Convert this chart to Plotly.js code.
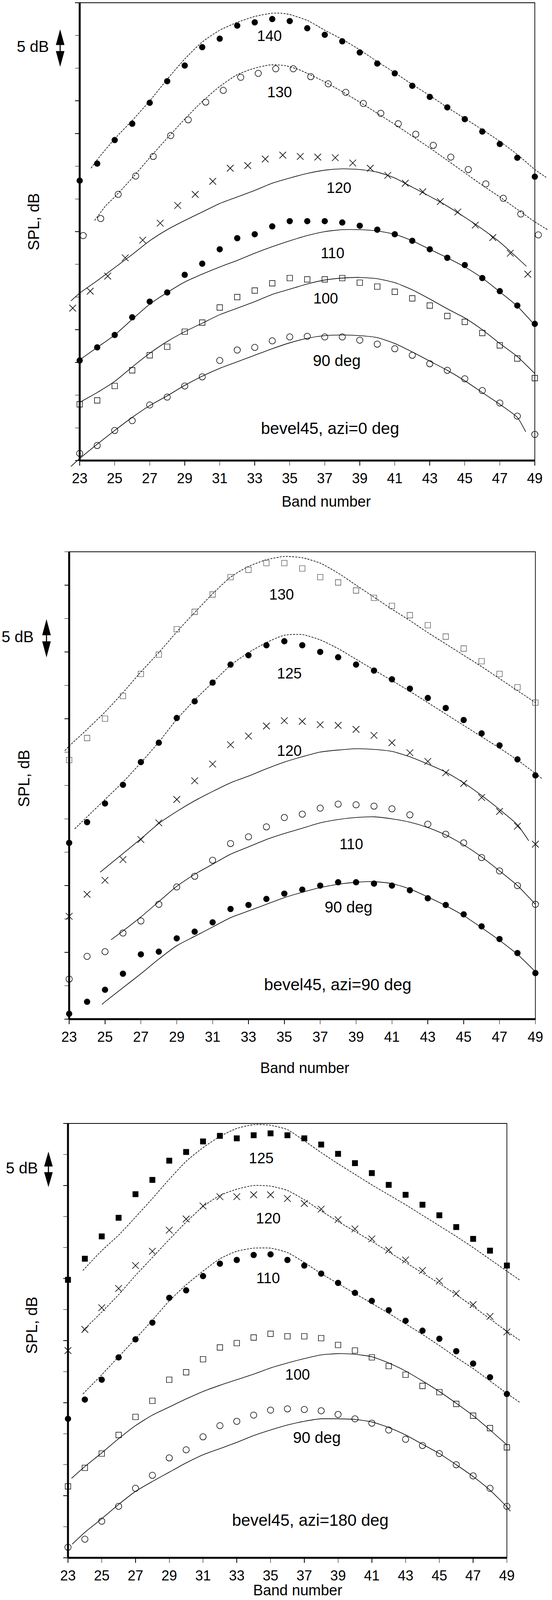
<!DOCTYPE html>
<html><head><meta charset="utf-8">
<script src="https://cdn.plot.ly/plotly-3.0.1.min.js"></script>
<style>html,body{margin:0;padding:0;background:#fff;overflow:hidden}#chart{width:1413px;height:4125px}</style>
</head><body><div id="chart"></div>
<script>
// ---------------- DATA ----------------
const bands = [23,24,25,26,27,28,29,30,31,32,33,34,35,36,37,38,39,40,41,42,43,44,45,46,47,48,49];
const xTickVals = [23,25,27,29,31,33,35,37,39,41,43,45,47,49];
const xTickText = ["23","25","27","29","31","33","35","37","39","41","43","45","47","49"];
const yTickVals = [0,5,10,15,20,25,30,35,40,45,50,55,60,65,70];

// Panel 1: bevel45, azi=0 deg  (measured, SPL dB relative)
const p1_140 = [42.8,45.4,49.0,51.5,54.7,58.0,60.4,63.2,64.5,66.5,67.0,67.5,67.2,66.1,65.1,64.1,62.4,60.7,59.2,57.3,55.6,54.0,52.2,50.3,48.4,46.3,43.4];
const p1_130 = [34.4,37.0,40.7,43.5,46.5,49.7,52.1,54.8,56.6,58.6,59.2,59.9,59.9,58.7,57.6,56.3,54.6,53.1,51.5,49.9,48.2,46.4,44.5,42.3,40.1,37.7,34.5];
const p1_120 = [23.3,25.9,28.2,31.0,33.7,36.3,39.0,40.7,42.7,44.7,45.1,46.1,46.7,46.5,46.4,46.3,45.5,44.7,43.6,42.4,41.1,39.6,38.0,36.0,34.1,31.7,28.5];
const p1_110 = [15.3,17.3,19.2,21.9,24.3,25.7,28.4,30.1,32.3,34.0,34.6,35.8,36.6,36.6,36.6,36.4,35.9,35.3,34.6,33.6,32.3,31.0,29.9,27.9,25.9,23.7,20.9];
const p1_100 = [8.6,9.2,11.4,13.8,16.1,17.4,19.7,21.1,23.4,25.0,26.0,27.1,27.9,27.7,27.7,27.9,27.2,26.6,25.8,24.8,23.7,22.1,21.2,19.5,17.6,15.6,12.6];
const p1_90  = [1.1,2.3,4.6,6.1,8.5,9.7,11.4,12.8,15.3,16.9,17.3,18.3,18.9,19.0,18.9,18.9,18.4,17.8,17.1,16.1,14.8,13.8,12.5,10.7,8.8,6.8,4.0];
// Panel 1 predictions
const p1_140_px = [23.65,24,25,26,27,28,29,30,31,32,33,34,34.5,35,36,37,38,39,40,41,42,43,44,45,46,47,48,49,49.65];
const p1_140_py = [44.7,46.0,49.2,52.0,55.0,58.3,61.4,64.0,65.8,67.0,67.9,68.4,68.4,68.2,67.3,65.8,64.4,62.8,61.0,59.3,57.5,55.8,54.0,52.3,50.6,48.8,46.8,44.5,43.3];
const p1_130_px = [23.85,24.5,25,26,27,28,29,30,31,32,33,33.9,34.7,35.5,36,37,38,39,40,41,42,43,44,45,46,47,48,49,49.73];
const p1_130_py = [36.7,39.0,40.3,43.2,46.3,49.3,52.2,54.9,57.2,59.0,60.0,60.5,60.4,59.8,59.2,57.9,56.4,54.8,53.1,51.4,49.6,47.8,45.9,44.0,42.1,40.3,38.4,36.5,35.3];
const p1_120_px = [22.5,23,24,25,26,27,28,29,30,31,32,33,34,35,36,37,38,39,40,41,42,43,44,45,46,47,48,48.52];
const p1_120_py = [24.4,25.6,27.5,29.5,31.5,33.6,35.3,36.7,38.0,39.3,40.3,41.3,42.4,43.2,43.9,44.4,44.6,44.5,44.1,43.2,41.8,40.4,38.9,37.2,35.4,33.4,31.0,29.7];
const p1_110_px = [23,24,25,26,27,28,29,30,31,32,33,34,35,36,37,38,39,40,41,42,43,44,45,46,47,48,49];
const p1_110_py = [15.4,17.3,19.2,21.6,23.9,25.7,27.3,28.5,29.6,30.6,31.7,32.7,33.6,34.4,35.0,35.3,35.3,35.1,34.6,33.6,32.3,31.0,29.6,27.9,25.8,23.6,20.7];
const p1_100_px = [23,24,25,26,27,28,29,30,31,32,33,34,35,36,37,38,39,40,41,42,43,44,45,46,47,48,49];
const p1_100_py = [8.9,10.4,12.1,14.3,16.4,18.2,19.7,21.0,22.3,23.3,24.3,25.4,26.2,27.0,27.6,27.9,28.0,27.8,27.2,26.1,24.7,23.2,21.8,20.0,17.9,15.9,13.3];
const p1_90_px = [22.5,23,24,25,26,27,28,29,30,31,32,33,34,35,36,37,38,39,40,41,42,43,44,45,46,47,48,48.48];
const p1_90_py = [-0.9,0.3,2.5,4.6,6.6,8.4,9.9,11.5,12.9,14.1,15.1,16.1,17.1,18.0,18.7,19.1,19.2,19.1,18.8,17.9,16.6,15.2,13.8,12.2,10.4,8.6,6.6,4.4];

// Panel 2: bevel45, azi=90 deg
const p2_130 = [38.8,42.1,45.0,48.4,51.7,54.6,58.4,61.0,63.6,66.2,67.3,68.3,68.3,67.5,66.2,65.4,64.2,63.1,61.9,60.5,59.0,57.3,55.5,53.6,51.7,49.7,47.4];
const p2_125 = [26.4,29.5,32.3,35.1,38.5,41.4,45.1,47.6,50.4,53.1,54.5,56.0,56.6,56.0,55.0,54.2,53.1,52.2,50.9,49.5,48.1,46.6,44.8,42.8,41.0,38.9,36.5];
const p2_120 = [15.4,18.7,20.8,23.9,26.9,29.4,32.9,35.7,38.2,41.1,42.4,43.9,44.7,44.6,44.1,44.0,43.4,42.5,41.4,39.9,38.6,36.9,35.3,33.2,31.1,28.9,26.2];
const p2_110 = [6.0,9.4,10.1,12.9,14.7,17.2,19.8,21.4,23.8,26.3,27.3,28.8,30.2,30.7,31.6,32.2,32.1,31.9,31.5,30.6,29.2,27.7,26.4,24.2,22.2,20.0,17.2];
const p2_90  = [0.8,2.6,4.4,6.8,9.7,10.1,12.1,13.1,14.5,16.5,17.1,18.0,18.8,19.4,20.0,20.5,20.5,20.3,20.0,19.3,18.1,17.1,15.7,13.9,12.0,9.9,6.9];
const p2_130_px = [22.76,23,24,25,26,27,28,29,30,31,32,33,34,35,36,37,38,39,40,41,42,43,44,45,46,47,48,49];
const p2_130_py = [40.2,40.9,43.4,46.0,48.9,52.0,54.9,58.0,60.9,63.7,66.2,67.8,68.8,69.3,69.1,68.3,66.8,65.0,63.2,61.4,59.7,57.9,56.2,54.5,52.8,51.0,49.2,47.4];
const p2_125_px = [23.31,24,25,26,27,28,29,30,31,32,33,34,35,36,37,38,39,40,41,42,43,44,45,46,47,48,49,49.37];
const p2_125_py = [28.5,30.3,32.9,35.5,38.4,41.5,44.9,47.8,50.4,53.0,54.9,56.4,57.5,57.6,56.8,55.5,53.9,52.3,50.7,49.1,47.4,45.7,44.0,42.3,40.6,38.8,36.8,36.0];
const p2_120_px = [24.73,25,26,27,28,29,30,31,32,33,34,35,36,37,38,39,40,41,42,43,44,45,46,47,48,48.63];
const p2_120_py = [22.0,22.6,24.8,27.0,29.3,31.1,32.7,34.1,35.4,36.4,37.5,38.5,39.3,40.0,40.3,40.5,40.4,40.1,39.3,38.2,37.0,35.4,33.5,31.4,29.1,26.7];
const p2_110_px = [25.34,26,27,28,29,30,31,32,33,34,35,36,37,38,39,40,41,42,43,44,45,46,47,48,49];
const p2_110_py = [11.9,13.2,15.3,17.6,19.9,21.7,23.2,24.7,25.8,26.9,27.8,28.6,29.4,29.9,30.2,30.3,30.0,29.5,28.7,27.6,26.1,24.3,22.2,20.0,17.2];
const p2_90_px = [24.83,25,26,27,28,29,30,31,32,33,34,35,36,37,38,39,40,41,42,43,44,45,46,47,48,49];
const p2_90_py = [2.2,2.6,4.7,6.8,9.0,11.0,12.4,13.8,15.2,16.2,17.2,18.2,19.0,19.7,20.2,20.5,20.6,20.3,19.5,18.3,17.0,15.5,13.7,11.8,9.7,7.1];

// Panel 3: bevel45, azi=180 deg
const p3_125 = [44.8,48.2,51.8,54.8,58.6,60.9,64.0,65.4,67.1,68.0,67.6,68.1,68.4,68.1,67.6,66.6,65.1,63.6,62.0,60.1,58.5,56.9,55.2,53.3,51.4,49.5,47.1];
const p3_120 = [33.4,36.8,40.3,43.4,47.1,49.4,52.8,54.6,56.7,58.2,58.2,58.5,58.5,57.9,57.1,56.2,54.5,53.0,51.4,49.6,48.0,46.3,44.6,42.6,40.8,38.9,36.4];
const p3_110 = [22.4,25.5,28.7,32.3,35.2,37.9,41.9,43.1,45.4,47.4,48.0,48.8,48.9,48.0,47.1,45.8,44.3,42.7,41.4,39.9,38.2,36.6,35.3,33.3,31.3,29.1,26.4];
const p3_100 = [11.5,14.5,16.8,19.8,22.7,25.3,28.7,29.9,32.0,33.9,34.6,35.5,36.1,35.7,35.7,35.4,34.3,33.4,32.3,30.9,29.5,27.7,26.7,24.8,22.9,20.9,17.8];
const p3_90  = [1.7,3.0,5.9,8.3,11.2,13.3,16.1,17.4,19.5,21.3,22.0,23.0,23.8,24.0,23.9,23.7,23.1,22.4,21.7,20.6,19.1,18.1,16.8,15.0,13.2,11.2,8.3];
const p3_125_px = [23.88,25,26,27,28,29,30,31,32,33,34,35,36,37,38,39,40,41,42,43,44,45,46,47,48,49,49.79];
const p3_125_py = [46.3,49.5,52.0,54.9,57.9,61.0,63.9,66.1,67.9,69.2,69.8,69.7,69.0,67.2,65.3,63.5,61.8,60.1,58.5,56.9,55.2,53.5,51.8,50.0,48.1,46.2,44.7];
const p3_120_px = [23.88,25,26,27,28,29,30,31,32,33,34,35,36,37,38,39,40,41,42,43,44,45,46,47,48,49,49.79];
const p3_120_py = [36.6,39.6,42.4,45.5,48.4,51.3,54.1,56.6,58.4,59.4,60.0,59.9,59.2,57.7,55.9,54.2,52.6,51.0,49.3,47.6,45.9,44.2,42.4,40.5,38.5,36.5,35.0];
const p3_110_px = [23.88,25,26,27,28,29,30,31,32,33,34,35,36,37,38,39,40,41,42,43,44,45,46,47,48,49,49.79];
const p3_110_py = [26.4,29.5,32.4,35.3,38.3,41.4,44.0,46.2,48.2,49.4,49.9,49.9,49.2,47.6,45.8,44.2,42.6,41.0,39.4,37.7,36.0,34.2,32.3,30.5,28.5,26.5,25.0];
const p3_100_px = [23.21,24,25,26,27,28,29,30,31,32,33,34,35,36,37,38,39,40,41,42,43,44,45,46,47,48,49];
const p3_100_py = [12.8,14.7,16.9,19.2,21.3,23.0,24.3,25.6,26.8,27.8,28.7,29.6,30.6,31.4,32.1,32.7,32.9,32.8,32.4,31.4,30.1,28.5,26.8,24.9,22.9,20.6,18.2];
const p3_90_px = [23.25,24,25,26,27,28,29,30,31,32,33,34,35,36,37,38,39,40,41,42,43,44,45,46,47,48,49,49.21];
const p3_90_py = [2.2,4.1,6.3,8.6,10.7,12.3,13.8,15.3,16.6,17.6,18.6,19.7,20.6,21.4,22.0,22.4,22.4,22.3,21.9,21.0,19.8,18.3,16.8,15.0,13.1,10.9,8.2,7.5];

// Curve labels
const p1_labels = ["140","130","120","110","100","90 deg","bevel45, azi=0 deg"];
const p1_labelX = [33.84,34.42,37.8,37.44,37.04,37.68,37.3];
const p1_labelY = [64.9,56.3,41.7,31.7,24.8,15.3,4.9];
const p2_labels = ["130","125","120","110","90 deg","bevel45, azi=90 deg"];
const p2_labelX = [34.84,35.27,35.27,38.73,38.57,37.98];
const p2_labelY = [63.6,51.8,40.2,26.2,16.8,5.2];
const p3_labels = ["125","120","110","100","90 deg","bevel45, azi=180 deg"];
const p3_labelX = [34.45,34.86,34.86,36.59,37.74,37.37];
const p3_labelY = [64.4,54.7,45.1,29.5,19.4,6.1];

// ---------------- STYLE / LAYOUT ----------------
const W = 1413, H = 4125;
const FONT = 'Liberation Sans, Arial, Helvetica, sans-serif';
const XR = [22.35, 49.85], YR = [-1.5, 70.4];

const MK = {
  dot:   {symbol:'circle', size:16, color:'#000', line:{width:0}},
  ocirc: {symbol:'circle-open', size:16, color:'#000', line:{width:1.5, color:'#000'}},
  cross: {symbol:'x-thin-open', size:17, color:'#000', line:{width:1.6, color:'#000'}},
  osq:   {symbol:'square-open', size:14, color:'#000', line:{width:1.4, color:'#000'}},
  dsq:   {symbol:'square-open', size:14, color:'#333', line:{width:1.1, color:'#333'}},
  fsq:   {symbol:'square', size:15, color:'#000', line:{width:0}}
};

const panels = [
  { L:204, R:1369, T:7, B:1179,
    xtitle:[835,1284], ytitle:[86,568], fivedb:[83.5,119], arrow:[154,75,171],
    labels:[p1_labels,p1_labelX,p1_labelY],
    series:[
      {y:p1_140, dx:0,    mk:'dot',   lx:p1_140_px, ly:p1_140_py, dash:true},
      {y:p1_130, dx:0.2,  mk:'ocirc', lx:p1_130_px, ly:p1_130_py, dash:true},
      {y:p1_120, dx:-0.4, mk:'cross', lx:p1_120_px, ly:p1_120_py, dash:false},
      {y:p1_110, dx:0,    mk:'dot',   lx:p1_110_px, ly:p1_110_py, dash:false},
      {y:p1_100, dx:0,    mk:'osq',   lx:p1_100_px, ly:p1_100_py, dash:false},
      {y:p1_90,  dx:0,    mk:'ocirc', lx:p1_90_px,  ly:p1_90_py,  dash:false}
    ]},
  { L:177, R:1370.5, T:1412.5, B:2609,
    xtitle:[780,2734], ytitle:[61,1993], fivedb:[45,1629.5], arrow:[119,1585,1683],
    labels:[p2_labels,p2_labelX,p2_labelY],
    series:[
      {y:p2_130, dx:0, mk:'dsq',   lx:p2_130_px, ly:p2_130_py, dash:true},
      {y:p2_125, dx:0, mk:'dot',   lx:p2_125_px, ly:p2_125_py, dash:true},
      {y:p2_120, dx:0, mk:'cross', lx:p2_120_px, ly:p2_120_py, dash:false},
      {y:p2_110, dx:0, mk:'ocirc', lx:p2_110_px, ly:p2_110_py, dash:false},
      {y:p2_90,  dx:0, mk:'dot',   lx:p2_90_px,  ly:p2_90_py,  dash:false}
    ]},
  { L:174, R:1297.5, T:2876, B:3988,
    xtitle:[762,4071], ytitle:[81,3393], fivedb:[56,2990], arrow:[124,2948,3039],
    labels:[p3_labels,p3_labelX,p3_labelY],
    series:[
      {y:p3_125, dx:0, mk:'fsq',   lx:p3_125_px, ly:p3_125_py, dash:true},
      {y:p3_120, dx:0, mk:'cross', lx:p3_120_px, ly:p3_120_py, dash:true},
      {y:p3_110, dx:0, mk:'dot',   lx:p3_110_px, ly:p3_110_py, dash:true},
      {y:p3_100, dx:0, mk:'osq',   lx:p3_100_px, ly:p3_100_py, dash:false},
      {y:p3_90,  dx:0, mk:'ocirc', lx:p3_90_px,  ly:p3_90_py,  dash:false}
    ]}
];

const PX = v => v / W;
const PY = v => 1 - v / H;

const traces = [];
const layout = {
  width: W, height: H,
  margin: {l:0, r:0, t:0, b:0, pad:0},
  paper_bgcolor: '#ffffff', plot_bgcolor: 'rgba(0,0,0,0)',
  showlegend: false,
  font: {family: FONT, color: '#000', size: 36},
  shapes: [], annotations: []
};

function labelSize(t) {
  if (t.indexOf('bevel') === 0) return 42;
  if (t.indexOf('deg') > 0) return 40;
  return 38;
}

panels.forEach((p, i) => {
  const k = i + 1, sfx = k === 1 ? '' : String(k);
  const xa = 'x' + sfx, ya = 'y' + sfx;
  const ppb = (p.R - p.L) / 26, ppu = (p.B - p.T) / 70;
  const x0 = p.L - (23 - XR[0]) * ppb, x1 = p.L + (XR[1] - 23) * ppb;
  const yb = p.B + (0 - YR[0]) * ppu, yt = p.T - (YR[1] - 70) * ppu;

  layout['xaxis' + sfx] = {
    domain: [PX(x0), PX(x1)], range: XR.slice(), anchor: 'free', position: PY(p.B),
    tickmode: 'array', tickvals: xTickVals, ticktext: xTickText,
    ticks: 'outside', ticklen: 12, tickwidth: 1.4, tickcolor: '#000', ticklabelstandoff: 2,
    showline: false, showgrid: false, zeroline: false, fixedrange: true,
    tickfont: {size: 36, family: FONT, color: '#000'}
  };
  layout['yaxis' + sfx] = {
    domain: [PY(yb), Math.min(1, PY(yt))], range: YR.slice(), anchor: 'free', position: PX(p.L),
    tickmode: 'array', tickvals: yTickVals, ticks: 'outside', ticklen: 12, tickwidth: 1.4, tickcolor: '#000',
    showticklabels: false, showline: false, showgrid: false, zeroline: false, fixedrange: true
  };

  // predicted curves
  p.series.forEach(s => {
    traces.push({type:'scatter', mode:'lines', x:s.lx, y:s.ly, xaxis:xa, yaxis:ya,
      line:{color:'#000', width:1.6, dash: s.dash ? '5px,3px' : 'solid', shape:'spline', smoothing:0.6},
      hoverinfo:'skip', showlegend:false});
  });
  // measured points
  p.series.forEach(s => {
    traces.push({type:'scatter', mode:'markers', x:bands.map(b => b + s.dx), y:s.y, xaxis:xa, yaxis:ya,
      marker: JSON.parse(JSON.stringify(MK[s.mk])), cliponaxis:false, hoverinfo:'skip', showlegend:false});
  });

  // frame: thin box + thick left and bottom axes
  layout.shapes.push({type:'rect', xref:xa, yref:ya, x0:23, x1:49, y0:0, y1:70, layer:'below',
    line:{color:'#000', width:1.8}, fillcolor:'rgba(0,0,0,0)'});
  layout.shapes.push({type:'line', xref:xa, yref:ya, x0:23, x1:23, y0:0, y1:70, layer:'below',
    line:{color:'#000', width:5}});
  layout.shapes.push({type:'line', xref:xa, yref:ya, x0:23, x1:49, y0:0, y1:0, layer:'below',
    line:{color:'#000', width:5}});

  // 5 dB double arrow (pixel geometry converted to paper)
  const [cx, top, bot] = p.arrow;
  const len = bot - top, h = 0.42 * len, w = 11, s = 1.4;
  const pts = [[cx,top],[cx+w,top+h],[cx+s,top+h],[cx+s,bot-h],[cx+w,bot-h],[cx,bot],
               [cx-w,bot-h],[cx-s,bot-h],[cx-s,top+h],[cx-w,top+h]];
  const path = 'M' + pts.map(q => PX(q[0]).toFixed(6) + ',' + PY(q[1]).toFixed(6)).join(' L') + ' Z';
  layout.shapes.push({type:'path', xref:'paper', yref:'paper', path:path, fillcolor:'#000', line:{width:0}});
  layout.annotations.push({xref:'paper', yref:'paper', x:PX(p.fivedb[0]), y:PY(p.fivedb[1]),
    text:'5 dB', showarrow:false, xanchor:'center', yanchor:'middle', font:{size:40, family:FONT, color:'#000'}});
  layout.annotations.push({xref:'paper', yref:'paper', x:PX(p.ytitle[0]), y:PY(p.ytitle[1]),
    text:'SPL, dB', textangle:-90, showarrow:false, xanchor:'center', yanchor:'middle', font:{size:40, family:FONT, color:'#000'}});
  layout.annotations.push({xref:'paper', yref:'paper', x:PX(p.xtitle[0]), y:PY(p.xtitle[1]),
    text:'Band number', showarrow:false, xanchor:'center', yanchor:'middle', font:{size:38, family:FONT, color:'#000'}});

  const [txt, lxv, lyv] = p.labels;
  txt.forEach((t, j) => {
    layout.annotations.push({xref:xa, yref:ya, x:lxv[j], y:lyv[j], text:t, showarrow:false,
      xanchor:'center', yanchor:'middle', font:{size:labelSize(t), family:FONT, color:'#000'}});
  });
});

Plotly.newPlot('chart', traces, layout, {staticPlot:true, displayModeBar:false});
</script>
</body></html>
